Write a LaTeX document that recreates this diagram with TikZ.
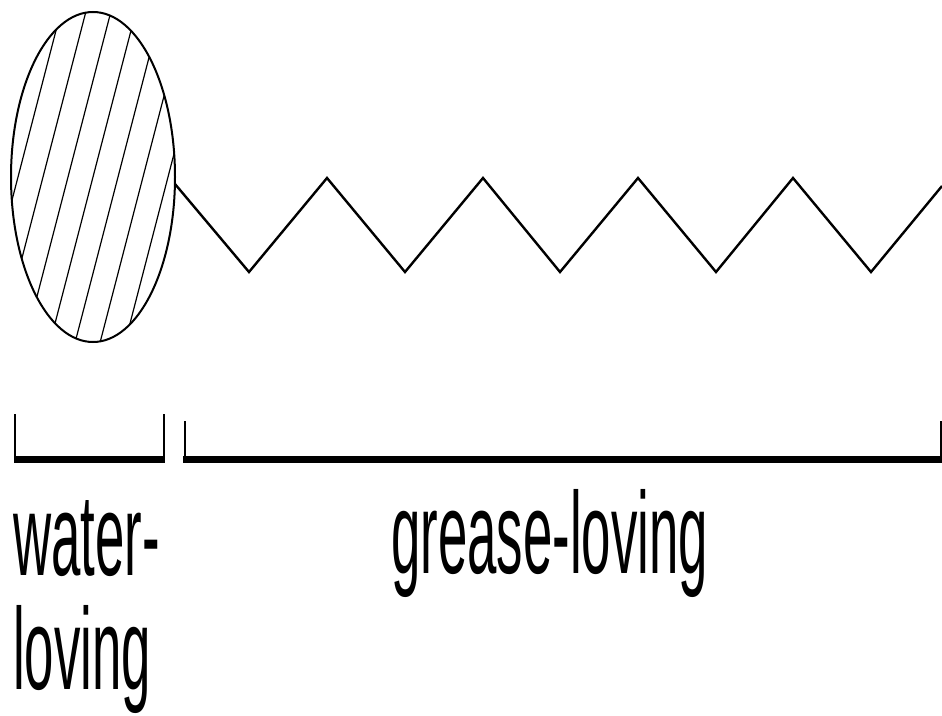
\documentclass[tikz,border=0pt]{standalone}
\usepackage{fontspec}
\setmainfont{Liberation Sans}
\usetikzlibrary{calc}
\tikzset{
  outline/.style={line width=2pt,black},
  hatchline/.style={line width=1.2pt,black},
  chain/.style={line width=2.4pt,black,line join=miter},
  tick/.style={line width=2pt,black},
  bar/.style={line width=7pt,black},
  label/.style={anchor=base west,inner sep=0pt,font=\fontsize{116}{116}\selectfont}
}
\newcommand{\cond}[1]{\scalebox{0.455}[1]{#1}}
\begin{document}
\begin{tikzpicture}[x=1pt,y=-1pt]
\fill[white] (0,0) rectangle (942,715);
\useasboundingbox (0,0) rectangle (942,715);
% head
\coordinate (hc) at (93,177);
\begin{scope}
  \clip (hc) ellipse [x radius=82pt, y radius=165pt];
  \foreach \i in {-10,...,10}
    \draw[hatchline] ($(hc)+(\i*25,0)+(-48,185)$) -- ++(96,-370);
\end{scope}
\draw[outline] (hc) ellipse [x radius=82pt, y radius=165pt];
% tail
\coordinate (t0) at (175,184);
\coordinate (tend) at (942,186);
\draw[chain] (t0) -- (249,272) -- (327,178) -- (405,272) -- (483,178) -- (560,272)
  -- (638,178) -- (716,272) -- (793,178) -- (871,272) -- (tend);
% brackets
\coordinate (la) at (15,414);
\coordinate (lb) at (164,414);
\coordinate (ra) at (184.5,421);
\coordinate (rb) at (941,421);
\draw[tick] (la) -- (15,462);
\draw[tick] (lb) -- (164,462);
\draw[bar] (14,459) -- (165,459);
\draw[tick] (ra) -- (184.5,462);
\draw[tick] (rb) -- (941,462);
\draw[bar] (183,459.5) -- (942,459.5);
% labels
\node[label] (w1) at (13,575) {\cond{water-}};
\node[label] (w2) at (13,689) {\cond{loving}};
\node[label] (g1) at (391,573) {\cond{grease-loving}};
\end{tikzpicture}
\end{document}
